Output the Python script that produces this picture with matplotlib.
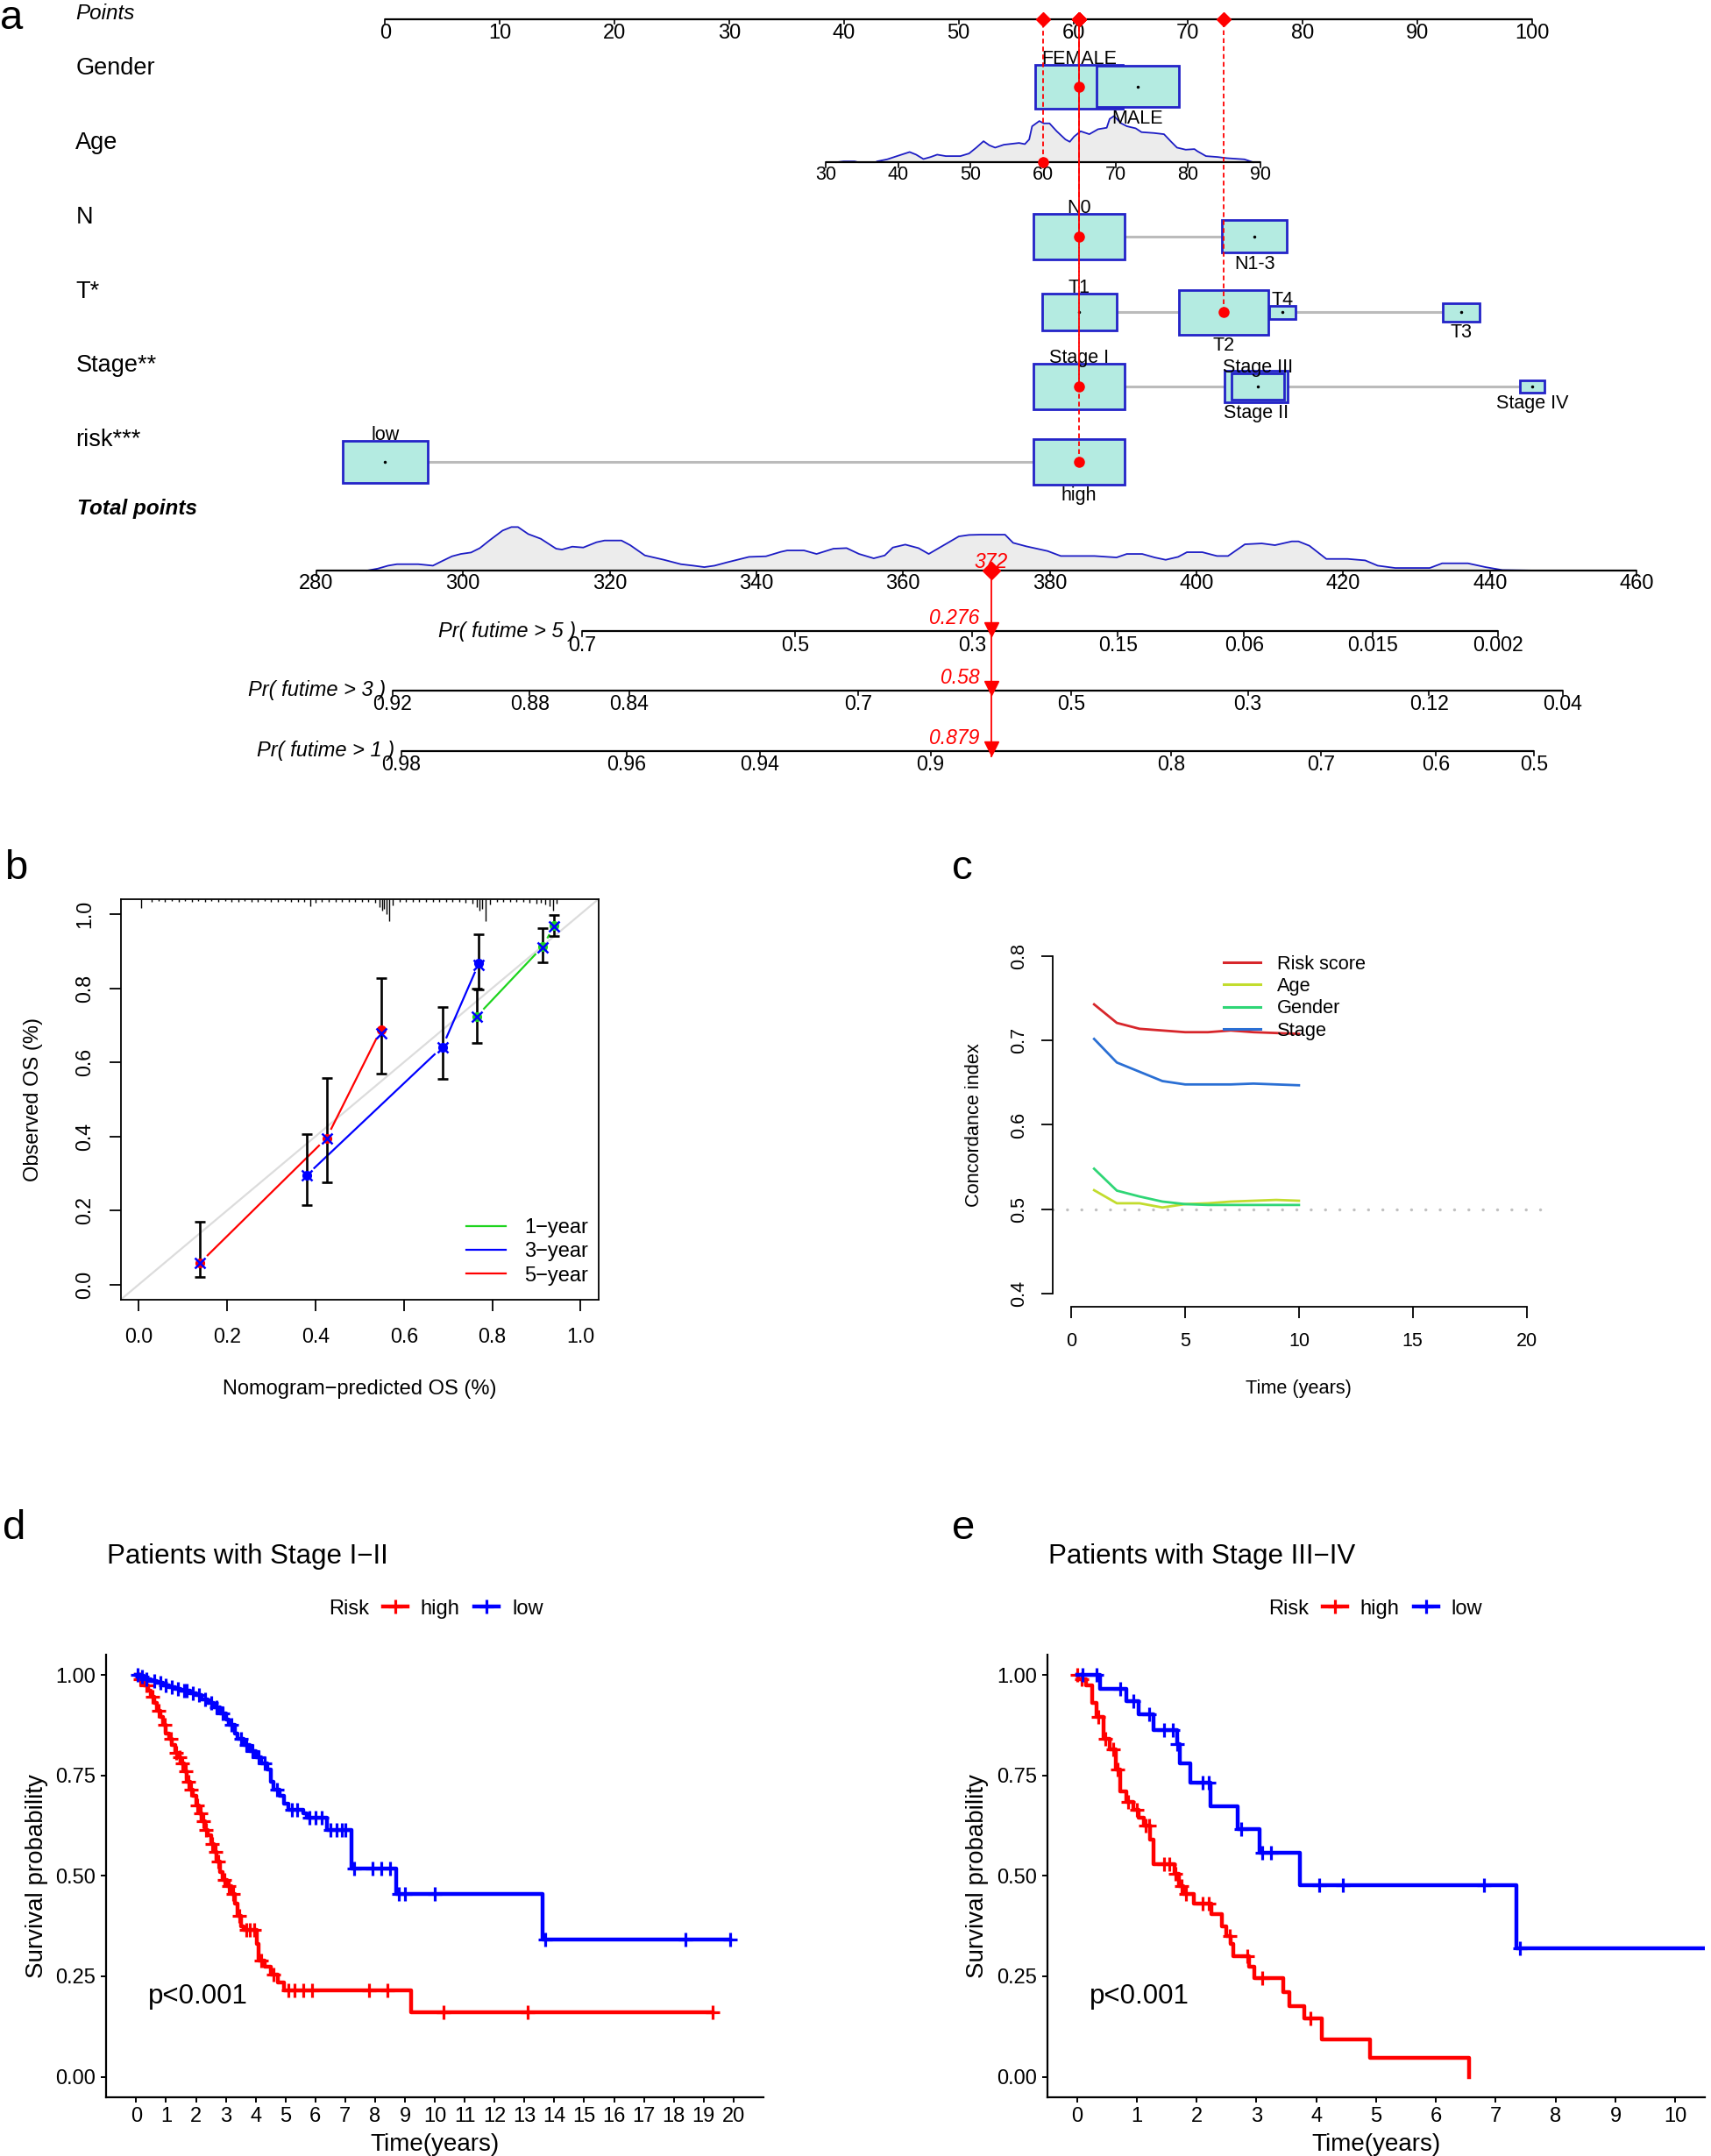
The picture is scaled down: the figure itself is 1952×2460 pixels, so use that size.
import numpy as np
import matplotlib.pyplot as plt
from matplotlib.patches import Rectangle
from matplotlib.lines import Line2D
from matplotlib.transforms import blended_transform_factory

plt.rcParams["font.family"] = ["Liberation Sans", "DejaVu Sans"]

# ---------------- a: nomogram ----------------
points_ticks = list(range(0, 101, 10))

gender_levels = ["FEMALE", "MALE"]
gender_points = [60.5, 65.6]
gender_n = [320, 281]

n_levels = ["N0", "N1-3"]
n_points = [60.5, 75.8]
n_n = [340, 172]

t_levels = ["T1", "T2", "T4", "T3"]
t_points = [60.5, 73.1, 78.2, 93.8]
t_n = [228, 330, 28, 57]

stage_levels = ["Stage I", "Stage II", "Stage III", "Stage IV"]
stage_points = [60.5, 75.9, 76.1, 100.0]
stage_n = [340, 165, 113, 25]

risk_levels = ["low", "high"]
risk_points = [0.0, 60.5]
risk_n = [300, 340]

age_ticks = [30, 40, 50, 60, 70, 80, 90]
age_points_range = (38.4, 76.3)  # points for age 30 and age 90
age_grid = [31.5, 32.5, 34.0, 34.5, 36.9, 37.1, 38.5, 40.1, 41.6, 42.5, 43.5, 44.5,
            45.4, 46.6, 48.6, 49.8, 50.8, 51.8, 52.6, 53.4, 54.6, 56.7, 57.5, 58.1,
            58.5, 59.5, 60.1, 60.9, 61.9, 63.1, 63.7, 64.3, 65.2, 66.4, 67.6, 68.8,
            69.2, 69.8, 70.8, 71.6, 72.8, 73.6, 75.3, 76.7, 77.7, 78.5, 79.7, 80.9,
            81.3, 82.5, 84.1, 85.4, 87.8, 89.0]
age_density = [0, 3, 3, 0, 0, 3, 10, 23, 35, 26, 11, 18,
               26, 21, 21, 30, 50, 72, 58, 50, 60, 66, 62, 78,
               123, 141, 133, 133, 106, 78, 70, 88, 106, 96, 113, 118,
               148, 158, 133, 123, 116, 103, 100, 96, 70, 50, 43, 45,
               38, 21, 18, 14, 10, 0]

total_ticks = list(range(280, 461, 20))
total_points_range = (-6.0, 109.1)  # where total 280 and 460 sit on the points scale
total_grid = [286.9, 288.4, 289.8, 291.0, 293.9, 295.9, 297.1, 298.5, 299.7, 301.1,
              302.3, 303.7, 305.4, 306.6, 307.5, 308.9, 310.6, 312.7, 313.5, 314.9,
              316.4, 318.2, 319.3, 321.6, 322.8, 324.8, 327.4, 329.7, 331.4, 332.9,
              334.3, 336.1, 339.0, 341.3, 343.3, 344.2, 346.5, 348.2, 350.5, 352.3,
              354.0, 356.0, 357.5, 358.6, 360.3, 362.1, 363.5, 365.0, 366.1, 367.6,
              369.0, 370.6, 373.9, 375.0, 376.8, 379.7, 381.5, 386.1, 389.1, 390.5,
              392.6, 394.3, 395.8, 397.5, 398.7, 400.8, 402.8, 404.3, 406.6, 408.9,
              410.7, 413.0, 413.9, 415.4, 417.7, 420.6, 423.0, 424.7, 427.1, 431.8,
              433.5, 437.0, 439.4, 441.7, 447.0]
total_density = [0, 7, 17, 22, 22, 17, 32, 49, 57, 62,
                 77, 105, 137, 149, 149, 125, 109, 75, 72, 82,
                 79, 97, 103, 103, 87, 52, 37, 22, 17, 12,
                 17, 29, 47, 49, 64, 69, 69, 57, 75, 77,
                 57, 42, 52, 79, 89, 77, 57, 79, 95, 117,
                 122, 123, 123, 95, 83, 67, 50, 50, 45, 57,
                 57, 45, 37, 47, 63, 63, 50, 50, 90, 93,
                 87, 100, 100, 85, 40, 40, 35, 17, 9, 9,
                 25, 25, 12, 2, 0]

pr_labels = ["Pr( futime > 5 )", "Pr( futime > 3 )", "Pr( futime > 1 )"]
pr_ticks = [[0.7, 0.5, 0.3, 0.15, 0.06, 0.015, 0.002],
            [0.92, 0.88, 0.84, 0.7, 0.5, 0.3, 0.12, 0.04],
            [0.98, 0.96, 0.94, 0.9, 0.8, 0.7, 0.6, 0.5]]
pr_total_at_half = [345.3, 382.9, 446.0]  # total points giving survival 0.5
cox_slope = 0.0229                        # log(-log S) per total point

case_age = 60
case_levels = {"Gender": "FEMALE", "N": "N0", "T*": "T2", "Stage**": "Stage I", "risk***": "high"}
case_total = 372
case_pr = ["0.276", "0.58", "0.879"]

# ---------------- b: calibration ----------------
cal_years = ["1", "3", "5"]
cal_pred = [[0.765, 0.914, 0.940], [0.380, 0.687, 0.770], [0.139, 0.425, 0.548]]
cal_obs = [[0.724, 0.912, 0.968], [0.295, 0.641, 0.868], [0.059, 0.395, 0.688]]
cal_lo = [[0.653, 0.870, 0.940], [0.214, 0.554, 0.796], [0.021, 0.276, 0.570]]
cal_hi = [[0.800, 0.961, 0.998], [0.407, 0.750, 0.946], [0.170, 0.558, 0.827]]
cal_bc = [[0.724, 0.910, 0.966], [0.295, 0.641, 0.862], [0.059, 0.395, 0.677]]
rug_x = [0.006, 0.03, 0.045, 0.06, 0.075, 0.09, 0.105, 0.12, 0.135, 0.15,
         0.165, 0.18, 0.195, 0.21, 0.225, 0.24, 0.255, 0.27, 0.285, 0.30,
         0.315, 0.33, 0.345, 0.36, 0.375, 0.389, 0.40, 0.415, 0.43, 0.445,
         0.46, 0.475, 0.49, 0.505, 0.52, 0.535, 0.545, 0.55, 0.555, 0.56,
         0.566, 0.575, 0.59, 0.605, 0.62, 0.635, 0.65, 0.665, 0.68, 0.695,
         0.71, 0.725, 0.74, 0.755, 0.765, 0.772, 0.778, 0.785, 0.795, 0.81,
         0.825, 0.84, 0.855, 0.87, 0.885, 0.9, 0.91, 0.92, 0.93, 0.938, 0.945]
rug_h = [0.024, 0.006, 0.005, 0.007, 0.005, 0.006, 0.004, 0.006, 0.005, 0.007,
         0.005, 0.006, 0.005, 0.007, 0.006, 0.005, 0.007, 0.006, 0.005, 0.006,
         0.007, 0.005, 0.006, 0.008, 0.006, 0.018, 0.009, 0.007, 0.006, 0.008,
         0.006, 0.007, 0.008, 0.006, 0.007, 0.009, 0.02, 0.03, 0.026, 0.04,
         0.058, 0.016, 0.008, 0.006, 0.007, 0.006, 0.008, 0.007, 0.006, 0.008,
         0.007, 0.006, 0.009, 0.012, 0.02, 0.03, 0.026, 0.058, 0.015, 0.008,
         0.007, 0.006, 0.008, 0.007, 0.009, 0.012, 0.01, 0.014, 0.018, 0.03, 0.012]

# ---------------- c: C-index over time ----------------
c_years = [1, 2, 3, 4, 5, 6, 7, 8, 9, 10]
cidx_risk = [0.743, 0.721, 0.714, 0.712, 0.710, 0.710, 0.712, 0.710, 0.709, 0.708]
cidx_age = [0.5225, 0.507, 0.507, 0.502, 0.506, 0.507, 0.509, 0.510, 0.511, 0.510]
cidx_gender = [0.548, 0.522, 0.515, 0.509, 0.506, 0.505, 0.505, 0.505, 0.505, 0.505]
cidx_stage = [0.702, 0.674, 0.663, 0.652, 0.648, 0.648, 0.648, 0.649, 0.648, 0.647]

# ---------------- d: KM Stage I-II ----------------
d_high_t = [0.1, 0.25, 0.4, 0.5, 0.6, 0.7, 0.8, 0.9, 1.0, 1.1, 1.2, 1.3, 1.4, 1.5, 1.6, 1.7,
            1.8, 1.9, 2.0, 2.1, 2.2, 2.3, 2.4, 2.5, 2.6, 2.7, 2.8, 2.9, 3.05, 3.2, 3.3, 3.4,
            3.5, 3.6, 4.05, 4.1, 4.3, 4.5, 4.75, 4.95, 9.2]
d_high_s = [0.99, 0.975, 0.96, 0.945, 0.93, 0.91, 0.895, 0.875, 0.855, 0.84, 0.825, 0.805,
            0.795, 0.78, 0.76, 0.735, 0.715, 0.70, 0.675, 0.655, 0.635, 0.615, 0.60, 0.58,
            0.56, 0.535, 0.51, 0.49, 0.475, 0.455, 0.43, 0.40, 0.375, 0.365, 0.33, 0.29,
            0.275, 0.255, 0.235, 0.215, 0.16]
d_high_cens = [0.15, 0.35, 0.55, 0.75, 0.95, 1.15, 1.35, 1.45, 1.55, 1.65, 1.75, 1.85, 2.05,
               2.15, 2.25, 2.35, 2.55, 2.65, 2.75, 2.95, 3.1, 3.25, 3.45, 3.7, 3.8, 3.95, 4.2,
               4.6, 5.1, 5.3, 5.6, 5.9, 7.8, 8.4, 10.3, 13.1, 19.3]
d_high_end = 19.3
d_low_t = [0.15, 0.3, 0.5, 0.7, 0.9, 1.1, 1.3, 1.5, 1.8, 2.0, 2.2, 2.4, 2.6, 2.8, 3.0, 3.1,
           3.3, 3.4, 3.6, 3.8, 4.0, 4.2, 4.4, 4.5, 4.6, 4.8, 4.95, 5.1, 5.6, 5.7, 6.4, 7.2,
           8.7, 13.6]
d_low_s = [0.995, 0.99, 0.985, 0.98, 0.975, 0.97, 0.965, 0.96, 0.955, 0.95, 0.94, 0.93, 0.92,
           0.905, 0.89, 0.875, 0.855, 0.84, 0.825, 0.81, 0.795, 0.78, 0.765, 0.735, 0.715,
           0.70, 0.68, 0.665, 0.655, 0.645, 0.615, 0.519, 0.454, 0.341]
d_low_cens = [0.05, 0.2, 0.35, 0.6, 0.8, 1.0, 1.2, 1.4, 1.6, 1.7, 1.9, 2.1, 2.3, 2.5, 2.7,
              2.9, 3.2, 3.5, 3.7, 3.9, 4.1, 4.3, 4.7, 5.2, 5.4, 5.8, 6.0, 6.2, 6.5, 6.7, 6.9,
              7.0, 7.3, 7.9, 8.2, 8.5, 8.8, 9.0, 10.0, 13.7, 18.4, 19.9]
d_low_end = 19.9

# ---------------- e: KM Stage III-IV ----------------
e_high_t = [0.02, 0.15, 0.25, 0.33, 0.45, 0.55, 0.65, 0.72, 0.82, 0.95, 1.03, 1.12, 1.22,
            1.28, 1.63, 1.7, 1.78, 1.95, 2.25, 2.43, 2.5, 2.57, 2.62, 2.87, 2.97, 3.45, 3.55,
            3.8, 4.1, 4.9, 6.55]
e_high_s = [0.99, 0.975, 0.93, 0.895, 0.84, 0.815, 0.765, 0.71, 0.685, 0.665, 0.645, 0.625,
            0.59, 0.53, 0.505, 0.475, 0.455, 0.43, 0.405, 0.375, 0.35, 0.33, 0.30, 0.275,
            0.245, 0.21, 0.175, 0.145, 0.093, 0.047, 0.0]
e_high_cens = [0.0, 0.08, 0.35, 0.47, 0.6, 0.68, 0.85, 1.0, 1.15, 1.2, 1.45, 1.55, 1.65, 1.75,
               1.82, 2.1, 2.2, 2.55, 2.85, 3.1, 3.9]
e_high_end = 6.55
e_low_t = [0.38, 0.83, 1.03, 1.28, 1.67, 1.72, 1.9, 2.23, 2.68, 3.05, 3.72, 7.35]
e_low_s = [0.966, 0.935, 0.903, 0.863, 0.827, 0.779, 0.732, 0.674, 0.617, 0.557, 0.477, 0.319]
e_low_cens = [0.1, 0.33, 0.72, 0.95, 1.2, 1.45, 1.6, 1.68, 2.1, 2.2, 2.75, 3.1, 3.25, 4.05,
              4.45, 6.8, 7.4]
e_low_end = 12.0

# ---------------- figure ----------------
W, H = 1244.0, 1568.0  # layout units (reference grid)
fig = plt.figure(figsize=(19.52, 24.6), dpi=100)


def box(x0, y0, x1, y1):
    return [x0 / W, 1 - y1 / H, (x1 - x0) / W, (y1 - y0) / H]


def fxy(x, y):
    return x / W, 1 - y / H


for lab, x, y in [("a", 0, 21), ("b", 3, 639), ("c", 692, 639), ("d", 2, 1119), ("e", 692, 1119)]:
    fig.text(*fxy(x, y), lab, fontsize=34, ha="left", va="baseline")

# ===== panel a =====
X0, PPX = 280.0, 8.34  # layout x of 0 points, layout px per point
ax = fig.add_axes(box(0, 0, W, 575))
ax.set_xlim((0 - X0) / PPX, (W - X0) / PPX)
ax.set_ylim(575, 0)
ax.axis("off")
tr = blended_transform_factory(ax.transAxes, ax.transData)

Y_POINTS, Y_AGE, Y_TOTAL = 14, 118, 415
Y_PR = [459, 502, 546]
ROW_Y = {"Gender": 63, "N": 172, "T*": 227, "Stage**": 281, "risk***": 336}
BOX_K = 3.58
BOX_FC, BOX_EC = "#b4ebe1", "#2323c8"
RED = "#ff0000"


def age_pts(a):
    a0, a1 = age_points_range
    return a0 + (np.asarray(a, float) - 30) * (a1 - a0) / 60


def total_pts(t):
    t0, t1 = total_points_range
    return t0 + (np.asarray(t, float) - 280) * (t1 - t0) / 180


def pr_total(p, half):
    p = np.asarray(p, float)
    return half + (np.log(-np.log(p)) - np.log(np.log(2))) / cox_slope


def nomo_axis(y, pos, labels, fs, pad):
    ax.plot([min(pos), max(pos)], [y, y], color="k", lw=1.6, solid_capstyle="butt")
    for p, l in zip(pos, labels):
        ax.plot([p, p], [y, y + 3.5], color="k", lw=1.2)
        ax.text(p, y + pad, l, ha="center", va="top", fontsize=fs)


row_labels = [("Points", 10), ("Gender", 50), ("Age", 104), ("N", 158), ("T*", 212),
              ("Stage**", 266), ("risk***", 320), ("Total points", 370)]
for name, y in row_labels:
    if name == "Points":
        ax.text(55 / W, y, name, transform=tr, fontsize=17.5, style="italic", va="center")
    elif name == "Total points":
        ax.text(56 / W, y, name, transform=tr, fontsize=17.5, style="italic",
                weight="bold", va="center")
    else:
        ax.text(55 / W, y, name, transform=tr, fontsize=19.5, va="center")

nomo_axis(Y_POINTS, points_ticks, [str(v) for v in points_ticks], 17, 3.0)

# age density + axis
ah = np.asarray(age_density, float) * 33.6 / max(age_density)
ax.fill_between(age_pts(age_grid), Y_AGE - ah, Y_AGE, color="#ececec", lw=0, zorder=1)
ax.plot(age_pts(age_grid), Y_AGE - ah, color="#1c1cc4", lw=1.3, zorder=2)
nomo_axis(Y_AGE, age_pts(age_ticks), [str(v) for v in age_ticks], 15.5, 2.5)

rows = [("Gender", gender_levels, gender_points, gender_n),
        ("N", n_levels, n_points, n_n),
        ("T*", t_levels, t_points, t_n),
        ("Stage**", stage_levels, stage_points, stage_n),
        ("risk***", risk_levels, risk_points, risk_n)]
for name, levels, pts, counts in rows:
    y = ROW_Y[name]
    ax.plot([min(pts), max(pts)], [y, y], color="#bbbbbb", lw=2.2, zorder=1)
    rank = {i: r for r, i in enumerate(np.argsort(pts, kind="stable"))}
    for i, (lvl, p, n) in enumerate(zip(levels, pts, counts)):
        side = BOX_K * np.sqrt(n)
        w, h = side / PPX, side / 2
        ax.add_patch(Rectangle((p - w / 2, y - h / 2), w, h, facecolor=BOX_FC,
                               edgecolor=BOX_EC, lw=2.0, zorder=3 + i))
        ax.plot(p, y, "o", color="k", ms=1.5, zorder=3 + i)
        if rank[i] % 2 == 0:
            ax.text(p, y - h / 2 - 0.5, lvl, ha="center", va="baseline", fontsize=15.5, zorder=12)
        else:
            ax.text(p, y + h / 2 + 1.5, lvl, ha="center", va="top", fontsize=15.5, zorder=12)

# highlighted case
case_marks = [(float(age_pts(case_age)), Y_AGE)]
for name, levels, pts, counts in rows:
    case_marks.append((pts[levels.index(case_levels[name])], ROW_Y[name]))
for p, y in case_marks:
    ax.plot([p, p], [y, Y_POINTS], color=RED, lw=1.3, ls=(0, (3, 2)), zorder=19)
    ax.plot(p, y, "o", color=RED, ms=8, zorder=20)
    ax.plot(p, Y_POINTS, "D", color=RED, ms=8, zorder=20)

# total points density + axis
th = np.asarray(total_density, float) * 31.7 / max(total_density)
ax.fill_between(total_pts(total_grid), Y_TOTAL - th, Y_TOTAL, color="#ececec", lw=0, zorder=1)
ax.plot(total_pts(total_grid), Y_TOTAL - th, color="#1c1cc4", lw=1.3, zorder=2)
nomo_axis(Y_TOTAL, total_pts(total_ticks), [str(v) for v in total_ticks], 17, 2.5)

for lab, ticks, half, y in zip(pr_labels, pr_ticks, pr_total_at_half, Y_PR):
    pos = total_pts(pr_total(ticks, half))
    nomo_axis(y, pos, [str(v) for v in ticks], 16.7, 3.0)
    ax.text(pos[0] - 0.6, y, lab, ha="right", va="center", fontsize=17, style="italic")

tx = float(total_pts(case_total))
ax.plot([tx, tx], [Y_TOTAL, Y_PR[-1] + 4], color=RED, lw=1.3, zorder=19)
ax.plot(tx, Y_TOTAL, "D", color=RED, ms=10, zorder=20)
ax.text(tx, Y_TOTAL - 2, str(case_total), ha="center", va="baseline", color=RED,
        fontsize=16.5, style="italic", zorder=21)
for y, s in zip(Y_PR, case_pr):
    ax.plot(tx, y - 1.5, "v", color=RED, ms=11, zorder=20)
    ax.text(tx - 1.0, y - 5, s, ha="right", va="baseline", color=RED, fontsize=16.5,
            style="italic")

# ===== panel b =====
axb = fig.add_axes(box(88, 654, 435, 945))
axb.set_xlim(-0.04, 1.04)
axb.set_ylim(-0.04, 1.04)
for s in axb.spines.values():
    s.set_linewidth(1.3)
axb.plot([-0.04, 1.04], [-0.04, 1.04], color="#dcdcdc", lw=1.6, zorder=1)
axb.vlines(rug_x, 1.04 - np.asarray(rug_h), 1.04, color="k", lw=1.0)

cal_colors = ["#1ed41e", "#0000ff", "#ff0000"]
fig.canvas.draw()


def gapped(a, xs, ys, gap, **kw):
    pts = a.transData.transform(np.column_stack([xs, ys]))
    inv = a.transData.inverted()
    for p0, p1 in zip(pts[:-1], pts[1:]):
        d = p1 - p0
        L = np.hypot(*d)
        if L <= 2 * gap:
            continue
        seg = inv.transform([p0 + d * gap / L, p1 - d * gap / L])
        a.plot(seg[:, 0], seg[:, 1], **kw)


for k in range(3):
    gapped(axb, cal_pred[k], cal_obs[k], 12, color=cal_colors[k], lw=1.6, zorder=2)
for k in range(3):
    obs = np.asarray(cal_obs[k])
    axb.errorbar(cal_pred[k], obs, yerr=[obs - cal_lo[k], np.asarray(cal_hi[k]) - obs],
                 fmt="none", ecolor="k", elinewidth=1.9, capsize=4.5, capthick=1.9, zorder=3)
for k in range(3):
    axb.plot(cal_pred[k], cal_obs[k], "o", color=cal_colors[k], ms=7, zorder=4)
    axb.plot(cal_pred[k], cal_bc[k], "x", color="#0000ff", ms=8, mew=1.8, zorder=5)

ticks = [0.0, 0.2, 0.4, 0.6, 0.8, 1.0]
axb.set_xticks(ticks)
axb.set_yticks(ticks)
axb.set_xticklabels([f"{t:.1f}" for t in ticks])
axb.set_yticklabels([f"{t:.1f}" for t in ticks], rotation=90, va="center")
axb.tick_params(axis="x", length=9.5, width=1.3, labelsize=16.7, pad=13)
axb.tick_params(axis="y", length=9.5, width=1.3, labelsize=16.7, pad=12)
axb.set_xlabel("Nomogram\u2212predicted OS (%)", fontsize=17, va="center")
axb.xaxis.set_label_coords(0.5, -0.224)
axb.set_ylabel("Observed OS (%)", fontsize=17, va="center")
axb.yaxis.set_label_coords(-0.184, 0.5)
axb.legend(handles=[Line2D([], [], color=c, lw=1.6) for c in cal_colors],
           labels=[f"{y}\u2212year" for y in cal_years], loc="lower left",
           bbox_to_anchor=(0.742, -0.002), bbox_transform=axb.transData, frameon=False,
           fontsize=17, handlelength=1.9, handletextpad=0.9, labelspacing=0.22,
           borderpad=0, borderaxespad=0)

# ===== panel c =====
axc = fig.add_axes(box(765.7, 685.7, 1123.1, 950.5))
axc.set_xlim(-0.8, 20.8)
axc.set_ylim(0.384, 0.816)
axc.spines[["top", "right"]].set_visible(False)
axc.spines["left"].set_bounds(0.4, 0.8)
axc.spines["bottom"].set_bounds(0, 20)
for s in ("left", "bottom"):
    axc.spines[s].set_linewidth(1.3)
axc.axhline(0.5, color="#c0c0c0", lw=2.5, ls=(0, (0.01, 4.7)), dash_capstyle="round")
c_cols = ["#d7262b", "#c2dc2e", "#2fd676", "#2a6fd4"]
c_names = ["Risk score", "Age", "Gender", "Stage"]
for vals, col in zip([cidx_risk, cidx_age, cidx_gender, cidx_stage], c_cols):
    axc.plot(c_years, vals, color=col, lw=2.0)
axc.set_xticks([0, 5, 10, 15, 20])
axc.set_yticks([0.4, 0.5, 0.6, 0.7, 0.8])
axc.set_yticklabels(["0.4", "0.5", "0.6", "0.7", "0.8"], rotation=90, va="center")
axc.tick_params(axis="x", length=9.5, width=1.3, labelsize=15.5, pad=11)
axc.tick_params(axis="y", length=9.5, width=1.3, labelsize=15.5, pad=11)
axc.set_xlabel("Time (years)", fontsize=15.7, va="center")
axc.xaxis.set_label_coords(0.5, -0.225)
axc.set_ylabel("Concordance index", fontsize=15.7, va="center")
axc.yaxis.set_label_coords(-0.161, 0.5)
axc.legend(handles=[Line2D([], [], color=c, lw=2.2) for c in c_cols], labels=c_names,
           loc="upper left", bbox_to_anchor=(6.7, 0.8015), bbox_transform=axc.transData,
           frameon=False, fontsize=15.7, handlelength=1.9, handletextpad=0.88,
           labelspacing=0.2, borderpad=0, borderaxespad=0)


# ===== panels d, e =====
def surv_at(times, surv, t):
    i = np.searchsorted(times, t, side="right")
    return 1.0 if i == 0 else surv[i - 1]


def km_panel(rect, xmax, title, title_x, risk_x, leg_x, pval_x, curves):
    a = fig.add_axes(rect)
    a.set_xlim(-0.05 * xmax, 1.05 * xmax)
    a.set_ylim(-0.05, 1.05)
    a.spines[["top", "right"]].set_visible(False)
    for s in ("left", "bottom"):
        a.spines[s].set_linewidth(1.6)
    for times, surv, cens, end, col in curves:
        xs = [0.0] + list(times) + [end]
        ys = [1.0] + list(surv) + [surv[-1]]
        a.step(xs, ys, where="post", color=col, lw=3.2)
        a.plot(cens, [surv_at(times, surv, c) for c in cens], "+", color=col, ms=11, mew=2.3,
               clip_on=True)
    a.set_xticks(range(0, xmax + 1))
    a.set_yticks([0, 0.25, 0.5, 0.75, 1.0])
    a.set_yticklabels(["0.00", "0.25", "0.50", "0.75", "1.00"])
    a.tick_params(length=4.5, width=1.4, labelsize=17, pad=4)
    a.set_xlabel("Time(years)", fontsize=20, va="center")
    a.xaxis.set_label_coords(0.5, -0.107)
    a.set_ylabel("Survival probability", fontsize=20, va="center")
    a.yaxis.set_label_coords(-0.106, 0.5)
    a.text(pval_x, 0.2, "p<0.001", fontsize=22.5, ha="left", va="center")
    fig.text(*fxy(title_x, 1132), title, fontsize=22.5, ha="left", va="center")
    fig.text(*fxy(risk_x, 1170), "Risk", fontsize=17, ha="left", va="center")
    handles = [Line2D([], [], color=c[4], lw=3.2, marker="+", ms=11, mew=2.3) for c in curves]
    fig.legend(handles=handles, labels=["high", "low"], loc="center left",
               bbox_to_anchor=fxy(leg_x, 1170), ncol=2, frameon=False, fontsize=17,
               handlelength=1.18, handletextpad=0.63, columnspacing=0.71, borderpad=0,
               borderaxespad=0)
    return a


km_panel(box(77.3, 1203.5, 555.0, 1525.0), 20, "Patients with Stage I\u2212II", 78, 239, 278.5, 0.41,
         [(d_high_t, d_high_s, d_high_cens, d_high_end, "#ff0000"),
          (d_low_t, d_low_s, d_low_cens, d_low_end, "#0000ff")])
km_panel(box(761.25, 1203.5, 1239.75, 1525.0), 10, "Patients with Stage III\u2212IV", 762, 922, 961.5, 0.21,
         [(e_high_t, e_high_s, e_high_cens, e_high_end, "#ff0000"),
          (e_low_t, e_low_s, e_low_cens, e_low_end, "#0000ff")])

fig.savefig("out.png", dpi=100, facecolor="white")
